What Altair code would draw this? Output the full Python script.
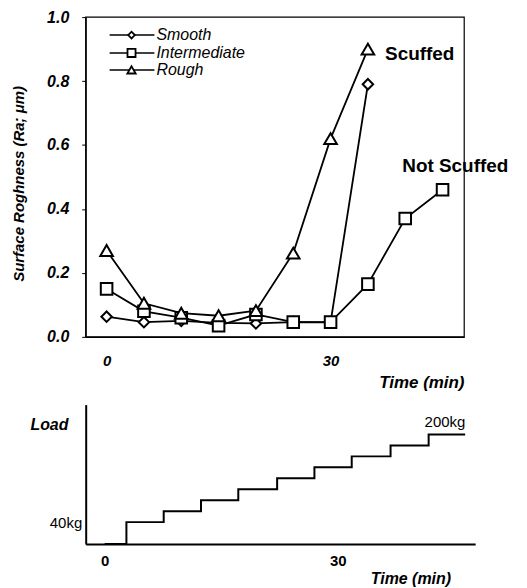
import altair as alt
import pandas as pd

FONT = "Liberation Sans"

# ---------------- data ----------------
SERIES = ["Smooth", "Intermediate", "Rough"]
SHAPES = ["diamond", "square", "triangle-up"]
TIME = [0, 5, 10, 15, 20, 25, 30, 35, 40, 45]
SMOOTH = [0.063, 0.046, 0.050, 0.044, 0.042, 0.046, 0.045, 0.79]
INTERMEDIATE = [0.15, 0.080, 0.060, 0.035, 0.070, 0.046, 0.046, 0.165, 0.37, 0.46]
ROUGH = [0.27, 0.105, 0.074, 0.066, 0.082, 0.262, 0.62, 0.90]

LOAD_TIME = [0, 2.8, 7.6, 12.4, 17.2, 22.2, 27.0, 31.8, 36.8, 41.7, 46.4]
LOAD_KG = [0, 40, 60, 80, 100, 120, 140, 160, 180, 200, 200]

rows = []
for name, vals in zip(SERIES, [SMOOTH, INTERMEDIATE, ROUGH]):
    for t, v in zip(TIME, vals):
        rows.append({"series": name, "time": t, "ra": v})
df = pd.DataFrame(rows)

load_df = pd.DataFrame({"time": LOAD_TIME, "load": LOAD_KG})

notes = pd.DataFrame({"time": [37.3, 39.6], "ra": [0.885, 0.533],
                      "label": ["Scuffed", "Not Scuffed"]})
load_note = pd.DataFrame({"time": [43.8], "load": [222], "label": ["200kg"]})

# ---------------- top chart ----------------
TW, TH = 380, 321
xs_top = alt.Scale(domain=[-2.8, 47.9], nice=False, zero=False)
ys_top = alt.Scale(domain=[0, 1.0], nice=False)

x_top = alt.X("time:Q", scale=xs_top,
              axis=alt.Axis(values=[0, 30], grid=False, ticks=False,
                            labelFont=FONT, labelFontSize=15, labelFontWeight="bold",
                            labelFontStyle="italic", labelPadding=17, labelColor="black",
                            domainColor="black", domainWidth=1.2,
                            title="Time (min)", titleFont=FONT, titleFontSize=17,
                            titleFontWeight="bold", titleFontStyle="italic",
                            titleColor="black", titleX=337, titleY=46,
                            titleAlign="center", titleBaseline="middle"))
y_top = alt.Y("ra:Q", scale=ys_top,
              axis=alt.Axis(values=[0, 0.2, 0.4, 0.6, 0.8, 1.0], format=".1f", grid=False,
                            tickSize=4, tickColor="black", labelFont=FONT, labelFontSize=16,
                            labelFontWeight="bold", labelFontStyle="italic",
                            labelPadding=13, labelColor="black",
                            domainColor="black", domainWidth=1.2,
                            title="Surface Roghness (Ra; μm)", titleFont=FONT,
                            titleFontSize=15, titleFontWeight="bold",
                            titleFontStyle="italic", titleColor="black",
                            titleX=-67, titleY=167, titleAlign="center",
                            titleBaseline="middle"))

base = alt.Chart(df)
lines = base.mark_line(color="black", strokeWidth=1.8).encode(
    x=x_top, y=y_top, detail="series:N")
points = base.mark_point(filled=True, fill="white", stroke="black",
                         strokeWidth=2, opacity=1).encode(
    x=x_top, y=y_top,
    shape=alt.Shape("series:N", scale=alt.Scale(domain=SERIES, range=SHAPES), legend=None),
    size=alt.Size("series:N", scale=alt.Scale(domain=SERIES, range=[110, 160, 170]),
                  legend=None))

frame = alt.Chart(pd.DataFrame({"a": [0]})).mark_rect(
    fillOpacity=0, stroke="black", strokeWidth=1.2).encode(
    x=alt.value(0), x2=alt.value(TW), y=alt.value(0), y2=alt.value(TH))

note_text = alt.Chart(notes).mark_text(
    align="left", baseline="middle", font=FONT, fontSize=19,
    fontWeight="bold", color="black").encode(
    x=alt.X("time:Q", scale=xs_top), y=alt.Y("ra:Q", scale=ys_top), text="label:N")

legend_layers = []
leg_y = [18, 36, 53]
leg_size = [45, 65, 70]
one = pd.DataFrame({"a": [0]})
for name, shp, yy, sz in zip(SERIES, SHAPES, leg_y, leg_size):
    legend_layers.append(alt.Chart(one).mark_rule(color="black", strokeWidth=1.5).encode(
        x=alt.value(24), x2=alt.value(69), y=alt.value(yy)))
    legend_layers.append(alt.Chart(one).mark_point(
        shape=shp, filled=True, fill="white", stroke="black", strokeWidth=1.8,
        size=sz, opacity=1).encode(x=alt.value(46), y=alt.value(yy)))
    legend_layers.append(alt.Chart(one).mark_text(
        text=name, align="left", baseline="middle", font=FONT, fontSize=16,
        fontStyle="italic", color="black").encode(x=alt.value(71), y=alt.value(yy)))

top = alt.layer(frame, lines, points, note_text, *legend_layers).properties(
    width=TW, height=TH)

# ---------------- bottom chart ----------------
BW, BH = 391, 140
xs_bot = alt.Scale(domain=[-2.44, 47.69], nice=False, zero=False)
ys_bot = alt.Scale(domain=[0, 254.5], nice=False)

x_bot = alt.X("time:Q", scale=xs_bot,
              axis=alt.Axis(values=[0, 30], grid=False, ticks=False,
                            labelFont=FONT, labelFontSize=15, labelFontWeight="bold",
                            labelPadding=10, labelColor="black",
                            domainColor="black", domainWidth=2,
                            title="Time (min)", titleFont=FONT, titleFontSize=16,
                            titleFontWeight="bold", titleFontStyle="italic",
                            titleColor="black", titleX=326, titleY=35,
                            titleAlign="center", titleBaseline="middle"))
y_bot = alt.Y("load:Q", scale=ys_bot,
              axis=alt.Axis(values=[40], labelExpr="datum.value + 'kg'", grid=False,
                            ticks=False, labelFont=FONT, labelFontSize=15,
                            labelPadding=4, labelColor="black",
                            domainColor="black", domainWidth=2,
                            title="Load", titleAngle=0, titleFont=FONT, titleFontSize=16,
                            titleFontWeight="bold", titleFontStyle="italic",
                            titleColor="black", titleX=-56, titleY=20,
                            titleAlign="left", titleBaseline="middle"))

load_line = alt.Chart(load_df).mark_line(
    color="black", strokeWidth=2, interpolate="step-after").encode(x=x_bot, y=y_bot)
load_lbl = alt.Chart(load_note).mark_text(
    align="center", baseline="middle", font=FONT, fontSize=15, color="black").encode(
    x=alt.X("time:Q", scale=xs_bot), y=alt.Y("load:Q", scale=ys_bot), text="label:N")

bottom = alt.layer(load_line, load_lbl).properties(width=BW, height=BH)

chart = alt.vconcat(top, bottom, spacing=68, bounds="flush").properties(
    padding={"left": 4, "top": 0, "right": 10, "bottom": 5},
    background="white",
).configure_view(stroke=None)

chart.save("out.html", embed_options={"renderer": "svg", "actions": False})
